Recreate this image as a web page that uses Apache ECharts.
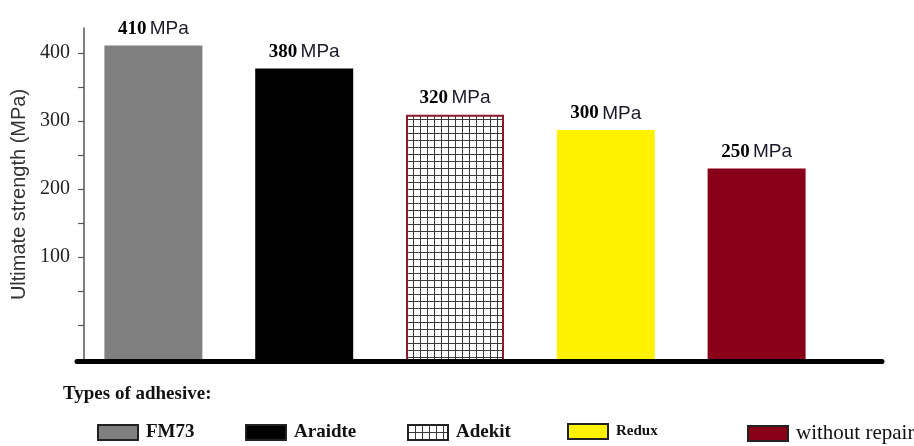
<!DOCTYPE html>
<html><head><meta charset="utf-8">
<script src="https://cdn.jsdelivr.net/npm/echarts@6/dist/echarts.min.js"></script>
<style>html,body{margin:0;padding:0;background:#fff}#c{width:914px;height:446px}</style>
</head><body><div id="c"></div>
<script>
// ---- data ----
const categories = ['FM73', 'Araidte', 'Adekit', 'Redux', 'without repair'];
const values = [410, 380, 320, 300, 250];
const yTickLabels = [100, 200, 300, 400];
const yTickMarks = [0, 50, 100, 150, 200, 250, 300, 350, 400];
const unit = 'MPa';
const legendTitle = 'Types of adhesive:';
const axisName = 'Ultimate strength (MPa)';

// ---- styles ----
function gridPattern() {
  const c = document.createElement('canvas'); c.width = 7; c.height = 7;
  const g = c.getContext('2d');
  g.fillStyle = '#fff'; g.fillRect(0, 0, 7, 7);
  g.fillStyle = '#3a3a3a'; g.fillRect(0, 0, 7, 1); g.fillRect(0, 0, 1, 7);
  return c;
}
const pattern = { image: gridPattern(), repeat: 'repeat' };
const barStyles = [
  { color: '#808080' },
  { color: '#000000' },
  { color: pattern, borderColor: '#8b1a2a', borderWidth: 2 },
  { color: '#fff200' },
  { color: '#880018' }
];
const legendLeft = [92, 240, 402, 562, 742];
const legendText = [
  { fontFamily: 'Liberation Serif', fontWeight: 'bold', fontSize: 19, color: '#111' },
  { fontFamily: 'Liberation Serif', fontWeight: 'bold', fontSize: 19, color: '#111' },
  { fontFamily: 'Liberation Serif', fontWeight: 'bold', fontSize: 19, color: '#111' },
  { fontFamily: 'Liberation Serif', fontWeight: 'bold', fontSize: 15, color: '#111' },
  { fontFamily: 'Liberation Serif', fontWeight: 'normal', fontSize: 21, color: '#111' }
];

const chart = echarts.init(document.getElementById('c'), null, { renderer: 'canvas' });

const legends = categories.map((name, i) => ({
  data: [{ name, icon: 'rect', itemStyle: { borderColor: '#222', borderWidth: 2 } }],
  left: legendLeft[i], top: 418,
  itemWidth: 40, itemHeight: 15, itemGap: 0,
  selectedMode: false,
  textStyle: Object.assign({ padding: [0, 0, 0, 3] }, legendText[i])
}));

const series = categories.map((name, i) => ({
  type: 'bar', name,
  xAxisIndex: 1, yAxisIndex: 1,
  barWidth: 98, barGap: '-100%',
  data: values.map((v, j) => (j === i ? v : '-')),
  itemStyle: barStyles[i],
  label: {
    show: true, position: 'top', distance: 7,
    formatter: p => `{a|${p.value}} {b|${unit}}`,
    rich: {
      a: { fontFamily: 'Liberation Serif', fontWeight: 'bold', fontSize: 19, color: '#000' },
      b: { fontFamily: 'Liberation Sans', fontSize: 19, color: '#1a1a2a' }
    }
  },
  silent: true,
  z: 2
}));

chart.setOption({
  animation: false,
  backgroundColor: '#fff',
  title: {
    text: legendTitle, left: 58, top: 380,
    textStyle: { fontFamily: 'Liberation Serif', fontWeight: 'bold', fontSize: 19, color: '#111' }
  },
  legend: legends,
  grid: [
    { left: 77, right: 32, top: 28, bottom: 85 },
    { left: 78, width: 754, top: 28, bottom: 85 }
  ],
  xAxis: [
    {
      gridIndex: 0, type: 'category', data: categories, z: 5,
      axisLine: { onZero: false, lineStyle: { color: '#000', width: 5 } },
      axisTick: { show: false }, axisLabel: { show: false }, splitLine: { show: false }
    },
    { gridIndex: 1, type: 'category', data: categories, show: false }
  ],
  yAxis: [
    {
      gridIndex: 0, type: 'value', min: -53, max: 437, offset: -7,
      name: axisName, nameLocation: 'middle', nameRotate: 90, nameGap: 52,
      nameTextStyle: { fontFamily: 'Liberation Sans', fontSize: 20, color: '#333' },
      axisLine: { show: true, onZero: false, lineStyle: { color: '#555', width: 1.5 } },
      axisTick: { show: true, customValues: yTickMarks, length: 6, lineStyle: { color: '#555', width: 1.2 } },
      axisLabel: { customValues: yTickLabels, margin: 14, fontFamily: 'Liberation Serif', fontSize: 20, color: '#222' },
      splitLine: { show: false }
    },
    { gridIndex: 1, type: 'value', min: 0, max: 432.6, show: false }
  ],
  series
});
</script>
</body></html>
